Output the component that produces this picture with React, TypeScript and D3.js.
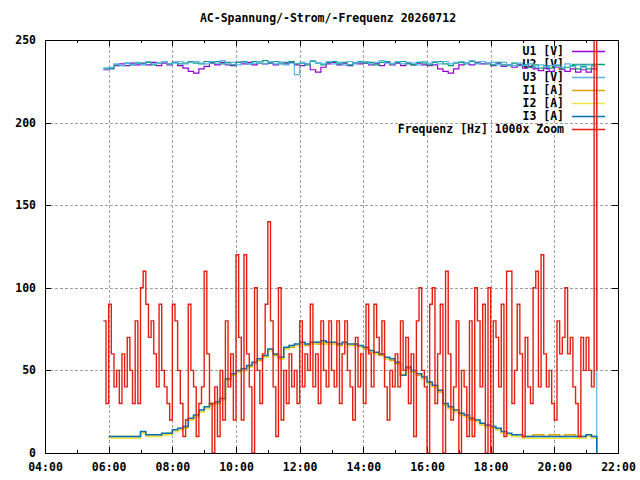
import React, { useRef, useEffect } from "react"
import * as d3 from "d3"

// x axis: hours of day, labels every 2 h, minor ticks every hour
const hourTickValues = [4, 6, 8, 10, 12, 14, 16, 18, 20, 22]
const hourTickLabels = ["04:00", "06:00", "08:00", "10:00", "12:00", "14:00", "16:00", "18:00", "20:00", "22:00"]
const yTickValues = [0, 50, 100, 150, 200, 250]

// voltage log: every 10 min from 05:50
const voltageStart = "05:50"
const voltageStep = 10
const u1 = [
  232,
  233, 234.5, 235.5, 234.5, 236, 235,
  236, 235, 236.5, 234.5, 236, 235,
  236.5, 234.5, 233, 231, 230, 232.5,
  234, 236.5, 235, 236.5, 235, 234.5,
  236.5, 235.5, 236.5, 235, 237, 235.5,
  236, 235, 236.5, 235.5, 236.5, 235,
  234.5, 235.5, 232, 230.5, 233.5, 235.5,
  236.5, 235, 236, 234.5, 236, 235.5,
  236, 235, 236, 234.5, 236.5, 235,
  236, 234.5, 236, 235, 236, 235,
  234.5, 235, 232.5, 231, 230, 232.5,
  235, 236, 235, 236.5, 235.5, 236,
  234.5, 236, 234, 235, 233.5, 235,
  233, 234, 232.5, 231.5, 233, 231,
  233.5, 232, 231, 232.5, 230.5, 232,
  230.5, 232.5, 231,
]
const u2 = [
  233,
  232.5, 235, 234.5, 236, 235, 236,
  235.5, 236.5, 235, 236, 237, 235.5,
  236.5, 235.5, 236, 237, 236, 235.5,
  237, 236, 237, 235.5, 236.5, 235,
  236.5, 237, 235.5, 237, 236, 237.5,
  236, 237, 235.5, 236.5, 237, 235.5,
  236, 235, 237, 236, 235, 236.5,
  237, 235.5, 236.5, 235, 236, 237,
  236, 236.5, 235, 236.5, 237, 235.5,
  236.5, 237, 235.5, 235, 236.5, 236,
  235, 236.5, 237, 235.5, 234.5, 236,
  236.5, 235.5, 237, 236, 237, 235.5,
  235, 236.5, 235, 234.5, 236, 234.5,
  235, 233.5, 235, 233, 234.5, 233,
  234.5, 233, 233.5, 234.5, 232.5, 234,
  232.5, 234, 233,
]
const u3 = [
  232.5,
  233.5, 235.5, 234.5, 236, 235, 236.5,
  235, 237, 235.5, 236, 237, 235.5,
  236, 237, 235.5, 236.5, 237, 236,
  235.5, 237, 236, 237.5, 235.5, 236.5,
  235, 236.5, 235.5, 236, 237, 235.5,
  237, 235.5, 236.5, 235, 236, 229,
  236.5, 235.5, 237.5, 236, 235.5, 237,
  235.5, 236.5, 235, 237, 235.5, 236.5,
  237, 235.5, 236.5, 237.5, 236, 235.5,
  237, 235.5, 236.5, 236, 235, 237,
  236, 237, 235.5, 237, 235.5, 236.5,
  237, 236, 237.5, 235.5, 237, 236,
  236.5, 235, 236.5, 235, 234.5, 236,
  234.5, 235.5, 233.5, 235, 233.5, 234.5,
  235, 233.5, 235.5, 234, 235, 233.5,
  235, 234, 0,
]

// current log: every 10 min from 06:00
const currentStart = "06:00"
const currentStep = 10
const i1 = [
  10, 10, 10, 10, 10, 10,
  12, 11, 11, 11, 11, 12,
  13, 14, 15, 20, 22, 25,
  27, 29, 30, 32, 44, 47,
  49, 50, 52, 54, 56, 58,
  62, 59, 57, 63, 64, 65,
  66, 65, 66, 66, 66, 66,
  66, 65, 66, 65, 65, 64,
  63, 61, 60, 59, 57, 56,
  54, 47, 51, 49, 47, 45,
  42, 40, 37, 29, 27, 25,
  23, 22, 20, 19, 17, 16,
  15, 14, 12, 11, 11, 10,
  10, 10, 11, 11, 10, 11,
  11, 10, 11, 11, 10, 10,
  11, 10, 0,
]
const i2 = [
  9, 9, 9, 9, 9, 9,
  12, 10, 10, 10, 11, 11,
  13, 14, 15, 20, 22, 25,
  27, 29, 31, 32, 44, 47,
  49, 51, 52, 54, 57, 58,
  62, 60, 57, 63, 65, 65,
  66, 66, 66, 67, 67, 66,
  66, 66, 66, 65, 66, 64,
  64, 62, 60, 60, 57, 57,
  55, 48, 52, 49, 48, 45,
  42, 40, 38, 29, 27, 25,
  23, 22, 21, 19, 17, 16,
  15, 14, 12, 11, 10, 10,
  9, 9, 9, 9, 9, 9,
  9, 9, 9, 9, 9, 9,
  10, 9, 0,
]
const i3 = [
  10, 10, 10, 10, 10, 10,
  13, 11, 11, 11, 12, 12,
  14, 15, 16, 21, 23, 26,
  28, 30, 31, 33, 45, 48,
  50, 51, 53, 55, 57, 59,
  63, 60, 58, 64, 65, 66,
  67, 66, 67, 67, 68, 67,
  67, 66, 67, 66, 66, 65,
  64, 62, 61, 60, 58, 57,
  55, 47, 52, 50, 48, 46,
  43, 41, 38, 30, 28, 26,
  24, 23, 21, 20, 18, 17,
  16, 15, 13, 12, 11, 11,
  10, 10, 10, 10, 10, 10,
  10, 10, 10, 10, 10, 10,
  11, 10, 0,
]

// frequency log (deviation x1000): every 5 min from 05:50
const freqStart = "05:50"
const freqStep = 5
const freq = [
  80, 30,
  90, 60, 40, 50, 30, 60, 40, 70, 50, 30, 80, 30,
  100, 110, 90, 70, 80, 60, 40, 90, 50, 40, 30, 20,
  90, 80, 50, 30, 10, 20, 90, 50, 40, 10, 30, 40,
  110, 60, 30, 0, 40, 10, 50, 20, 80, 40, 60, 20,
  120, 70, 20, 120, 60, 40, 0, 100, 50, 30, 60, 90,
  140, 80, 40, 10, 100, 20, 50, 30, 60, 40, 50, 30,
  80, 40, 60, 50, 90, 40, 60, 30, 80, 50, 40, 80,
  50, 40, 80, 30, 60, 80, 50, 40, 20, 70, 40, 60,
  30, 90, 60, 40, 90, 70, 60, 80, 40, 20, 50, 40,
  60, 40, 80, 50, 70, 30, 60, 10, 80, 100, 50, 40,
  0, 90, 100, 30, 60, 90, 0, 110, 60, 20, 40, 80,
  0, 50, 40, 10, 80, 10, 100, 80, 40, 90, 0, 100,
  0, 80, 70, 40, 90, 10, 110, 110, 30, 50, 90, 60,
  10, 70, 40, 30, 100, 110, 40, 120, 60, 40, 50, 30,
  20, 80, 60, 70, 100, 60, 70, 40, 30, 10, 70, 50,
  70, 50, 40, 320, 50,
]

const seriesNames = ["U1 [V]", "U2 [V]", "U3 [V]", "I1 [A]", "I2 [A]", "I3 [A]", "Frequenz [Hz] 1000x Zoom"]
const seriesColors = ["#9400d3", "#009e73", "#56b4e9", "#e69f00", "#f0e442", "#0072b2", "#e51e10"]
const seriesWidths = [1.2, 1.2, 1.2, 1.5, 1.5, 1.5, 1.4]

const title = "AC-Spannung/-Strom/-Frequenz 20260712"

type Pt = { t: number; v: number }

const toHours = (s: string) => {
  const [h, m] = s.split(":").map(Number)
  return h + m / 60
}
const toPoints = (start: string, stepMin: number, values: number[]): Pt[] =>
  values.map((v, i) => ({ t: toHours(start) + (i * stepMin) / 60, v }))

const FONT = "'DejaVu Sans Mono', monospace"

const Chart: React.FC<{ width: number; height: number }> = ({ width, height }) => {
  const svgRef = useRef<SVGSVGElement | null>(null)

  useEffect(() => {
    if (!svgRef.current) return
    const svg = d3.select(svgRef.current)
    svg.selectAll("*").remove()

    const left = 45
    const right = 618
    const top = 40
    const bottom = 453

    const x = d3.scaleLinear().domain([4, 22]).range([left, right])
    const y = d3.scaleLinear().domain([0, 250]).range([bottom, top])

    svg.append("rect").attr("width", width).attr("height", height).attr("fill", "#fff")

    svg
      .append("defs")
      .append("clipPath")
      .attr("id", "plot-clip")
      .append("rect")
      .attr("x", left)
      .attr("y", top)
      .attr("width", right - left)
      .attr("height", bottom - top)

    // grid
    const grid = svg.append("g").attr("stroke", "#a0a0a0").attr("stroke-dasharray", "3,2").attr("shape-rendering", "crispEdges")
    hourTickValues.slice(1, -1).forEach((h) => {
      grid.append("line").attr("x1", x(h) + 0.5).attr("x2", x(h) + 0.5).attr("y1", top).attr("y2", bottom)
    })
    yTickValues.slice(1, -1).forEach((v) => {
      grid.append("line").attr("x1", left).attr("x2", right).attr("y1", y(v) + 0.5).attr("y2", y(v) + 0.5)
    })

    // ticks (mirrored on top and right)
    const ticks = svg.append("g").attr("stroke", "#000").attr("shape-rendering", "crispEdges")
    d3.range(4, 23).forEach((h) => {
      const len = h % 2 === 0 ? 6 : 3
      const xx = x(h) + 0.5
      ticks.append("line").attr("x1", xx).attr("x2", xx).attr("y1", bottom).attr("y2", bottom - len)
      ticks.append("line").attr("x1", xx).attr("x2", xx).attr("y1", top).attr("y2", top + len)
    })
    yTickValues.forEach((v) => {
      const yy = y(v) + 0.5
      ticks.append("line").attr("x1", left).attr("x2", left + 6).attr("y1", yy).attr("y2", yy)
      ticks.append("line").attr("x1", right).attr("x2", right - 6).attr("y1", yy).attr("y2", yy)
    })

    // tick labels
    const labels = svg.append("g").attr("font-family", FONT).attr("font-weight", "bold").attr("font-size", "11.5px").attr("fill", "#000")
    yTickValues.forEach((v) => {
      labels.append("text").attr("x", 36).attr("y", y(v) + 4).attr("text-anchor", "end").text(String(v))
    })
    hourTickValues.forEach((h, i) => {
      labels.append("text").attr("x", x(h) + 0.5).attr("y", 471).attr("text-anchor", "middle").text(hourTickLabels[i])
    })

    // title
    svg
      .append("text")
      .attr("x", 328)
      .attr("y", 22)
      .attr("text-anchor", "middle")
      .attr("font-family", FONT)
      .attr("font-weight", "bold")
      .attr("font-size", "11.5px")
      .text(title)

    const series: Pt[][] = [
      toPoints(voltageStart, voltageStep, u1),
      toPoints(voltageStart, voltageStep, u2),
      toPoints(voltageStart, voltageStep, u3),
      toPoints(currentStart, currentStep, i1),
      toPoints(currentStart, currentStep, i2),
      toPoints(currentStart, currentStep, i3),
      toPoints(freqStart, freqStep, freq),
    ]

    const line = d3
      .line<Pt>()
      .x((d) => x(d.t))
      .y((d) => y(d.v))
      .curve(d3.curveStepAfter)

    const key = svg.append("g")
    const plot = svg.append("g").attr("clip-path", "url(#plot-clip)")

    series.forEach((data, i) => {
      const ky = 51 + i * 13
      key
        .append("text")
        .attr("x", 564)
        .attr("y", ky + 4)
        .attr("text-anchor", "end")
        .attr("font-family", FONT)
        .attr("font-weight", "bold")
        .attr("font-size", "11.5px")
        .text(seriesNames[i])
      key
        .append("line")
        .attr("x1", 572)
        .attr("x2", 605)
        .attr("y1", ky + 0.5)
        .attr("y2", ky + 0.5)
        .attr("stroke", seriesColors[i])
        .attr("stroke-width", 1.5)

      plot
        .append("path")
        .datum(data)
        .attr("fill", "none")
        .attr("stroke", seriesColors[i])
        .attr("stroke-width", seriesWidths[i])
        .attr("d", line)
    })

    // border
    svg
      .append("rect")
      .attr("x", left + 0.5)
      .attr("y", top + 0.5)
      .attr("width", right - left)
      .attr("height", bottom - top)
      .attr("fill", "none")
      .attr("stroke", "#000")
      .attr("shape-rendering", "crispEdges")
  }, [width, height])

  return <svg ref={svgRef} width={width} height={height} style={{ position: "absolute", left: 0, top: 0 }}></svg>
}

export default function App() {
  return <Chart width={640} height={480} />
}
